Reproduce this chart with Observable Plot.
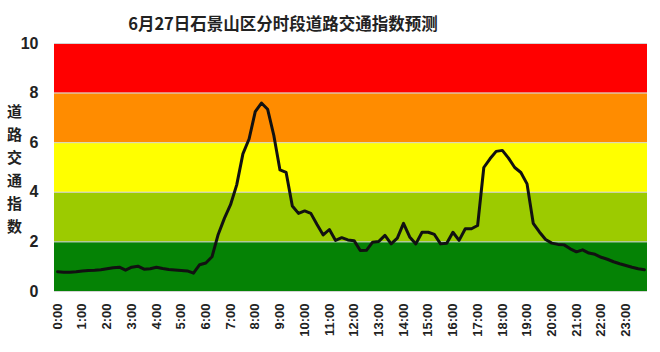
<!DOCTYPE html>
<html>
<head>
<meta charset="utf-8">
<script src="https://cdn.jsdelivr.net/npm/d3@7"></script>
<script src="https://cdn.jsdelivr.net/npm/@observablehq/plot@0.6"></script>
<style>
  html, body { margin: 0; padding: 0; background: #fff; }
  #chart svg text { font-weight: bold; }
</style>
</head>
<body>
<div id="chart"></div>
<script>
const title = "6月27日石景山区分时段道路交通指数预测";
const yLabel = "道\n路\n交\n通\n指\n数";

// 15-minute index values, 0:00 .. 23:45
const indexValues = [
  0.80, 0.78, 0.78, 0.80, 0.83, 0.85, 0.86, 0.88,
  0.92, 0.96, 0.98, 0.86, 0.98, 1.02, 0.90, 0.92,
  0.98, 0.93, 0.89, 0.87, 0.85, 0.83, 0.74, 1.08,
  1.15, 1.40, 2.30, 2.95, 3.50, 4.30, 5.55, 6.15,
  7.25, 7.60, 7.35, 6.30, 4.90, 4.80, 3.45, 3.15,
  3.25, 3.15, 2.70, 2.28, 2.50, 2.06, 2.17, 2.08,
  2.05, 1.65, 1.66, 1.99, 2.02, 2.26, 1.92, 2.15,
  2.75, 2.20, 1.92, 2.39, 2.39, 2.30, 1.92, 1.95,
  2.39, 2.06, 2.53, 2.53, 2.66, 5.00, 5.35, 5.65,
  5.69, 5.38, 5.00, 4.80, 4.34, 2.75, 2.40, 2.10,
  1.95, 1.90, 1.88, 1.72, 1.60, 1.68, 1.55, 1.50,
  1.38, 1.30, 1.20, 1.12, 1.05, 0.98, 0.92, 0.88
];

const hourLabels = [
  "0:00","1:00","2:00","3:00","4:00","5:00","6:00","7:00",
  "8:00","9:00","10:00","11:00","12:00","13:00","14:00","15:00",
  "16:00","17:00","18:00","19:00","20:00","21:00","22:00","23:00"
];

const bandLow  = [0, 2, 4, 6, 8];
const bandHigh = [2, 4, 6, 8, 10];
const bandColors = ["#058205", "#9ccb00", "#ffff00", "#ff8c00", "#ff0000"];
const yTicks = [0, 2, 4, 6, 8, 10];

const bands = bandLow.map((lo, i) => ({y1: lo, y2: bandHigh[i], fill: bandColors[i]}));
const series = indexValues.map((v, i) => ({t: i / 4, v}));
const hourTicks = hourLabels.map((_, i) => i);

const chart = Plot.plot({
  width: 660,
  height: 352,
  marginTop: 43,
  marginBottom: 61,
  marginLeft: 54,
  marginRight: 13,
  style: {fontFamily: "'Liberation Sans', Arial, sans-serif", color: "#222", background: "#fff"},
  x: {type: "linear", domain: [-0.125, 23.875]},
  y: {domain: [0, 10]},
  marks: [
    Plot.rect(bands, {y1: "y1", y2: "y2", fill: "fill"}),
    Plot.ruleY(yTicks, {stroke: "#d4d4d4", strokeWidth: 1}),
    Plot.line(series, {x: "t", y: "v", stroke: "#111", strokeWidth: 3, strokeLinejoin: "round"}),
    Plot.axisY({ticks: yTicks, tickSize: 0, tickPadding: 16, fontSize: 16, label: null}),
    Plot.axisX({ticks: hourTicks, tickFormat: i => hourLabels[i], tickRotate: -90, tickSize: 0, tickPadding: 12, fontSize: 13, label: null}),
    Plot.text([yLabel], {frameAnchor: "left", dx: -40, fontSize: 15, lineHeight: 1.53, textAnchor: "middle", fill: "#222", fontFamily: "'Noto Sans CJK SC', sans-serif"}),
    Plot.text([title], {frameAnchor: "top", dx: -68, dy: -25, fontSize: 16.5, fontFamily: "'Noto Sans CJK SC', sans-serif", fill: "#222"})
  ]
});
document.getElementById("chart").append(chart);
</script>
</body>
</html>
